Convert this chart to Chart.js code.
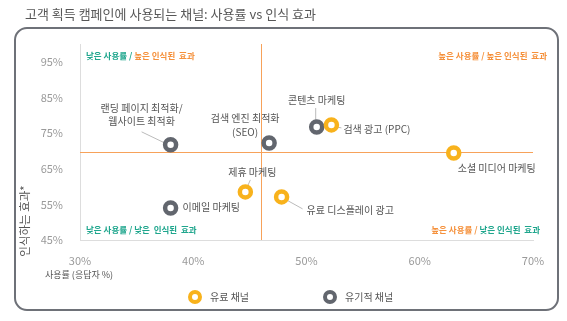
<!DOCTYPE html>
<html><head><meta charset="utf-8">
<script src="https://cdn.jsdelivr.net/npm/chart.js@4/dist/chart.umd.min.js"></script>
<style>html,body{margin:0;padding:0;background:#fff}canvas{display:block}</style>
</head><body>
<canvas id="c" width="567" height="321"></canvas>
<script>
// ---- data ----
const titleText = '고객 획득 캠페인에 사용되는 채널: 사용률 vs 인식 효과';
const xTitle = '사용률 (응답자 %)';
const yTitle = '인식하는 효과*';
const seriesNames = ['유료 채널', '유기적 채널'];
const paidNames = ['검색 광고 (PPC)', '소셜 미디어 마케팅', '제휴 마케팅', '유료 디스플레이 광고'];
const paidUsage = [52.2, 63.0, 44.6, 47.8];
const paidEffect = [77.3, 69.4, 58.5, 57.1];
const organicNames = ['랜딩 페이지 최적화/\n웹사이트 최적화', '검색 엔진 최적화\n(SEO)', '콘텐츠 마케팅', '이메일 마케팅'];
const organicUsage = [38.0, 46.7, 50.9, 38.0];
const organicEffect = [71.7, 72.2, 76.7, 54.0];
const avgUsage = 46;
const avgEffect = 69.7;
const xTicks = [30, 40, 50, 60, 70];
const yTicks = [45, 55, 65, 75, 85, 95];
const quadrantText = {
  tl: [['낮은 사용률 / ', 'teal'], ['높은 인식된  효과', 'orange']],
  tr: [['높은 사용률 / 높은 인식된  효과', 'orange']],
  bl: [['낮은 사용률 / 낮은  인식된  효과', 'teal']],
  br: [['높은 사용률 / ', 'orange'], ['낮은 인식된  효과', 'teal']]
};

// ---- styles / label layout (pixel offsets from each point) ----
const FONT = "'Noto Sans CJK KR', 'Noto Sans', sans-serif";
const C = {yellow:'#F8B21C', gray:'#62666E', orange:'#F7A25A', orangeText:'#F5913C', teal:'#1FA68D', text:'#555', tick:'#9A9A9A', leader:'#BBB', frame:'#6E7178'};
const paidLayout = [
  {dx:12, dy:4, align:'left', lead:[5,2,10,3]},
  {dx:43, dy:15, align:'center'},
  {dx:7, dy:-20, align:'center', lead:[5,-12,1,-3]},
  {dx:25, dy:13, align:'left', lead:[3,2,21,12]}
];
const organicLayout = [
  {dx:-29, dy:-37, lh:13, align:'center', lead:[-29,-13,-4,-1]},
  {dx:-24, dy:-25, lh:14, align:'center'},
  {dx:0, dy:-27, align:'center', lead:[-1,-19,-1,-5]},
  {dx:12, dy:-1, align:'left'}
];

const decor = {
  id:'decor',
  beforeDraw(chart){
    const ctx = chart.ctx;
    ctx.save();
    ctx.strokeStyle = C.frame; ctx.lineWidth = 2;
    const x0=15,y0=28,x1=558,y1=310,r=12;
    ctx.beginPath();
    ctx.moveTo(x0+r,y0); ctx.lineTo(x1-r,y0); ctx.arcTo(x1,y0,x1,y0+r,r);
    ctx.lineTo(x1,y1-r); ctx.arcTo(x1,y1,x1-r,y1,r); ctx.lineTo(x0+r,y1);
    ctx.arcTo(x0,y1,x0,y1-r,r); ctx.lineTo(x0,y0+r); ctx.arcTo(x0,y0,x0+r,y0,r);
    ctx.stroke();
    ctx.fillStyle = '#575757'; ctx.font = '13px ' + FONT; ctx.textBaseline='middle'; ctx.textAlign='left';
    ctx.fillText(titleText, 25, 14);
    ctx.fillStyle = C.text; ctx.font = '9px ' + FONT;
    ctx.fillText(xTitle, 45, 275);
    ctx.save(); ctx.translate(25, 221); ctx.rotate(-Math.PI/2); ctx.textAlign='center';
    ctx.font = '11.5px ' + FONT; ctx.fillText(yTitle, 0, 0); ctx.restore();
    const items = [[195, C.yellow, seriesNames[0]], [330, C.gray, seriesNames[1]]];
    items.forEach(([x,col,t])=>{
      ctx.beginPath(); ctx.arc(x, 297, 5, 0, Math.PI*2); ctx.fillStyle='#fff'; ctx.fill();
      ctx.lineWidth = 4; ctx.strokeStyle = col; ctx.stroke();
      ctx.fillStyle = C.text; ctx.font='10px ' + FONT; ctx.textAlign='left';
      ctx.fillText(t, x+15, 297);
    });
    ctx.restore();
  },
  beforeDatasetsDraw(chart){
    const ctx = chart.ctx, xs = chart.scales.x, ys = chart.scales.y, a = chart.chartArea;
    ctx.save();
    ctx.strokeStyle = C.orange; ctx.lineWidth = 1;
    const vx = Math.round(xs.getPixelForValue(avgUsage))+0.5;
    const hy = Math.round(ys.getPixelForValue(avgEffect))+0.5;
    ctx.beginPath(); ctx.moveTo(vx, a.top); ctx.lineTo(vx, a.bottom); ctx.stroke();
    ctx.beginPath(); ctx.moveTo(a.left, hy); ctx.lineTo(a.right, hy); ctx.stroke();
    ctx.font = 'bold 8.5px ' + FONT; ctx.textBaseline='middle';
    const drawParts = (parts, x, y, alignRight) => {
      const w = parts.reduce((s,p)=>s+ctx.measureText(p[0]).width,0);
      let cx = alignRight ? x - w : x;
      ctx.textAlign='left';
      parts.forEach(p=>{ ctx.fillStyle = p[1]==='teal'?C.teal:C.orangeText; ctx.fillText(p[0], cx, y); cx += ctx.measureText(p[0]).width; });
    };
    drawParts(quadrantText.tl, 86, 56, false);
    drawParts(quadrantText.tr, 547, 56, true);
    drawParts(quadrantText.bl, 86, 230, false);
    drawParts(quadrantText.br, 540, 230, true);
    ctx.strokeStyle = C.leader; ctx.lineWidth = 1;
    const leads = (meta, layout) => meta.data.forEach((pt,i)=>{
      const L = layout[i]; if(!L.lead) return;
      ctx.beginPath(); ctx.moveTo(pt.x+L.lead[0], pt.y+L.lead[1]); ctx.lineTo(pt.x+L.lead[2], pt.y+L.lead[3]); ctx.stroke();
    });
    leads(chart.getDatasetMeta(0), paidLayout);
    leads(chart.getDatasetMeta(1), organicLayout);
    ctx.restore();
  },
  afterDatasetsDraw(chart){
    const ctx = chart.ctx;
    ctx.save();
    ctx.fillStyle = C.text; ctx.font = '10px ' + FONT; ctx.textBaseline='middle';
    const labels = (meta, names, layout) => meta.data.forEach((pt,i)=>{
      const L = layout[i]; const lines = names[i].split('\n');
      ctx.textAlign = L.align;
      lines.forEach((ln,k)=> ctx.fillText(ln, pt.x+L.dx, pt.y+L.dy+k*(L.lh||13)));
    });
    labels(chart.getDatasetMeta(0), paidNames, paidLayout);
    labels(chart.getDatasetMeta(1), organicNames, organicLayout);
    ctx.restore();
  }
};

new Chart(document.getElementById('c'), {
  type:'scatter',
  data:{datasets:[
    {label:seriesNames[0], data:paidUsage.map((v,i)=>({x:v,y:paidEffect[i]})), backgroundColor:'#fff', borderColor:C.yellow, borderWidth:4.5, pointRadius:5.5},
    {label:seriesNames[1], data:organicUsage.map((v,i)=>({x:v,y:organicEffect[i]})), backgroundColor:'#fff', borderColor:C.gray, borderWidth:4.5, pointRadius:5.5}
  ]},
  options:{
    responsive:false, animation:false, events:[],
    layout:{padding:{top:44, right:34, left:0, bottom:0}},
    plugins:{legend:{display:false}, title:{display:false}, tooltip:{enabled:false}},
    scales:{
      x:{type:'linear', min:30, max:70,
        afterBuildTicks(s){ s.ticks = xTicks.map(v=>({value:v})); },
        afterFit(s){ s.height = 81; },
        grid:{display:false}, border:{display:true, color:'#DDD', width:1},
        ticks:{padding:6, color:C.tick, font:{family:FONT, size:11}, callback:v=>v+'%', maxRotation:0}},
      y:{type:'linear', min:45, max:100,
        afterBuildTicks(s){ s.ticks = yTicks.map(v=>({value:v})); },
        afterFit(s){ s.width = 80; },
        grid:{display:false}, border:{display:true, color:'#DDD', width:1},
        ticks:{padding:9, color:C.tick, font:{family:FONT, size:11}, callback:v=>v+'%'}}
    }
  },
  plugins:[decor]
});
</script>
</body></html>
